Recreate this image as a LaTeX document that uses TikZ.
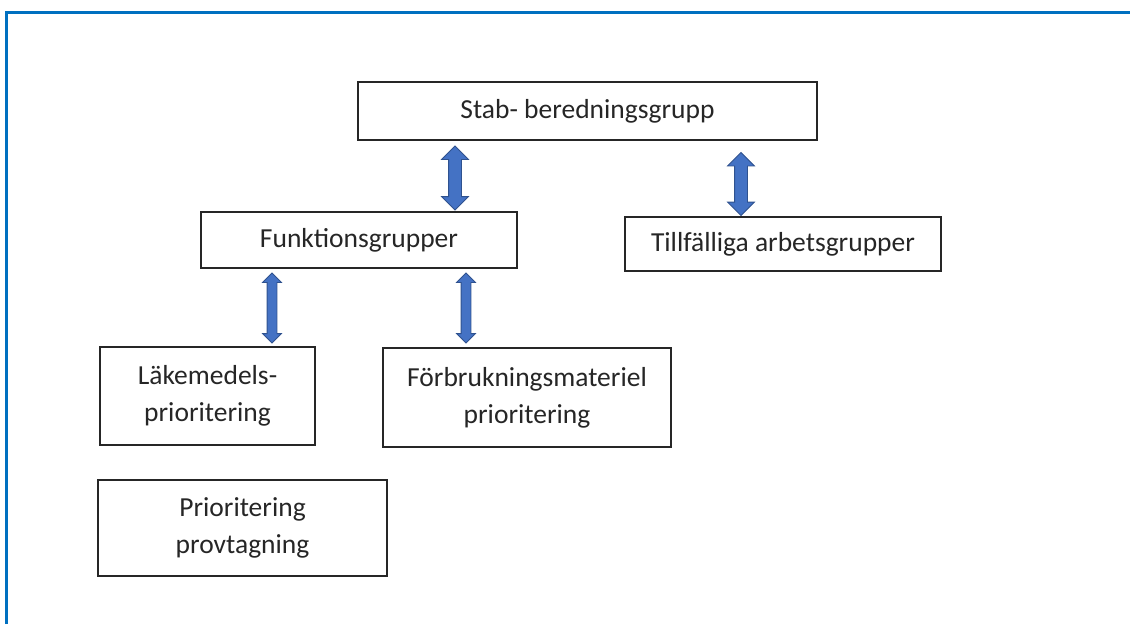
\documentclass[tikz,border=0pt]{standalone}
\usepackage{fontspec}
\setmainfont{Carlito}
\usetikzlibrary{shapes.arrows}

\definecolor{frameblue}{HTML}{0070C0}
\definecolor{arrowfill}{HTML}{4472C4}
\definecolor{arrowline}{HTML}{2F528F}

\begin{document}
\begin{tikzpicture}[x=1pt,y=-1pt,
    box/.style={draw=black!85, line width=1.3pt, align=center, inner sep=0pt,
      font=\fontsize{27.5}{37}\selectfont, text=black!85},
    bigdarrow/.style={double arrow, shape border rotate=90, draw=arrowline, fill=arrowfill,
      line width=0.8pt, inner sep=6pt, double arrow head extend=7pt, minimum width=26pt},
    smalldarrow/.style={bigdarrow, inner sep=4.5pt, double arrow head extend=4.5pt, minimum width=18pt}]
      \useasboundingbox (0,0) rectangle (1130,624);
      %frame
      \draw[frameblue, line width=3pt] (6,624) -- (6,12) -- (1130,12);
      %groups
      \node[box, minimum width=459pt, minimum height=58pt] (stab) at (587.5,111) {Stab- beredningsgrupp};
      \node[box, minimum width=316pt, minimum height=56pt] (funk) at (359,240) {Funktionsgrupper};
      \node[box, minimum width=316pt, minimum height=54pt] (till) at (783,244) {Tillfälliga arbetsgrupper};
      \node[box, minimum width=215pt, minimum height=98pt] (lake) at (207.5,396) {Läkemedels-\\prioritering};
      \node[box, minimum width=288pt, minimum height=99pt] (forb) at (527,397.5) {Förbrukningsmateriel\\prioritering};
      \node[box, minimum width=289pt, minimum height=96pt] (prov) at (242.5,528) {Prioritering\\provtagning};
      %arrows
      \node[bigdarrow, minimum height=64pt] (a1) at (455,178) {};
      \node[bigdarrow, minimum height=63pt] (a2) at (741,184) {};
      \node[smalldarrow, minimum height=70pt] (a3) at (272,308) {};
      \node[smalldarrow, minimum height=70pt] (a4) at (466,308) {};
\end{tikzpicture}
\end{document}
